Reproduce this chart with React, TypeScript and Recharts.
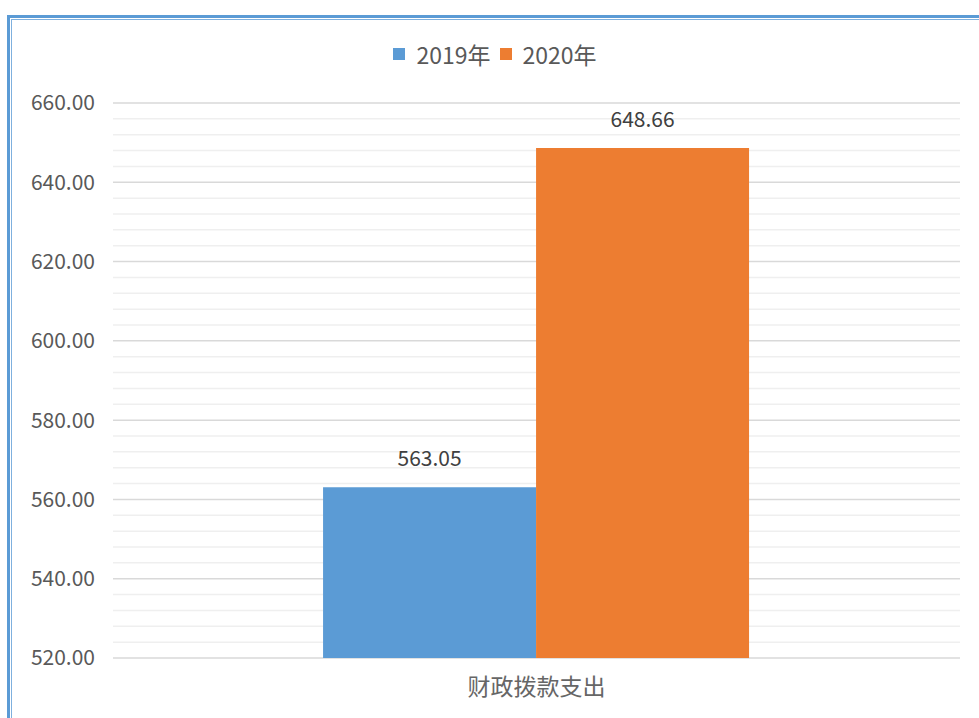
import { BarChart, Bar, XAxis, YAxis, CartesianGrid, Legend, LabelList } from 'recharts';

const categories = ['财政拨款支出'];
const values2019 = [563.05];
const values2020 = [648.66];
const yDomain = [520, 660];
const yTicks = [520, 540, 560, 580, 600, 620, 640, 660];
const minorTicks = [524, 528, 532, 536, 544, 548, 552, 556, 564, 568, 572, 576, 584, 588, 592, 596, 604, 608, 612, 616, 624, 628, 632, 636, 644, 648, 652, 656];

const series = [
  { key: 'y2019', name: '2019年', color: '#5b9bd5' },
  { key: 'y2020', name: '2020年', color: '#ed7d31' },
];

const data = categories.map((name, i) => ({
  name,
  y2019: values2019[i],
  y2020: values2020[i],
}));

const FONT = '"Noto Sans CJK SC", "Noto Sans", sans-serif';
const TEXT = '#595959';

// y positions of the minor grid lines, through the y axis scale
function minorLines(props: any): number[] {
  const sc = props?.yAxis?.scale;
  if (typeof sc === 'function') return minorTicks.map((v) => sc(v));
  if (sc && typeof sc.map === 'function') return minorTicks.map((v) => sc.map(v));
  const { top, height } = props.offset;
  const [lo, hi] = yDomain;
  return minorTicks.map((v) => top + height - ((v - lo) / (hi - lo)) * height);
}

function LegendContent() {
  return (
    <div style={{ display: 'flex', justifyContent: 'center', fontFamily: FONT, fontSize: 23, color: TEXT }}>
      {series.map((s) => (
        <div key={s.key} style={{ display: 'flex', alignItems: 'center', marginRight: 9 }}>
          <span style={{ width: 12, height: 12, background: s.color, marginRight: 11, display: 'inline-block' }} />
          <span>{s.name}</span>
        </div>
      ))}
    </div>
  );
}

export default function App() {
  return (
    <div
      style={{
        position: 'fixed',
        left: 0,
        top: 0,
        width: 979,
        height: 718,
        overflow: 'hidden',
        background: '#fff',
        fontFamily: FONT,
      }}
    >
      <div
        style={{
          position: 'absolute',
          left: 7,
          top: 15,
          width: 1000,
          height: 760,
          border: '3px solid #5b9bd5',
          boxSizing: 'border-box',
        }}
      >
        <div
          style={{
            position: 'absolute',
            left: 1,
            top: 1,
            right: 1,
            bottom: 1,
            border: '1px solid #7fb0de',
          }}
        />
      </div>
      <div style={{ position: 'absolute', left: 0, top: 0 }}>
        <BarChart
          width={979}
          height={718}
          data={data}
          margin={{ top: 103, right: 19, bottom: 0, left: 0 }}
          barCategoryGap="24.8%"
          barGap={0}
        >
          <CartesianGrid
            vertical={false}
            horizontal
            stroke="#efefef"
            strokeWidth={1.5}
            horizontalCoordinatesGenerator={minorLines}
          />
          <CartesianGrid vertical={false} horizontal stroke="#d9d9d9" strokeWidth={1.5} />
          <XAxis
            dataKey="name"
            axisLine={false}
            tickLine={false}
            height={60}
            tick={{ fill: '#666', fontSize: 23, fontFamily: FONT, dy: 13 }}
          />
          <YAxis
            domain={yDomain}
            ticks={yTicks}
            axisLine={false}
            tickLine={false}
            width={113}
            tickFormatter={(v: number) => v.toFixed(2)}
            tick={{ fill: TEXT, fontSize: 21, fontFamily: FONT, dx: -10 }}
          />
          <Legend
            layout="horizontal"
            verticalAlign="middle"
            align="center"
            wrapperStyle={{ top: 37, left: 10, width: 979 }}
            content={() => <LegendContent />}
          />
          {series.map((s) => (
            <Bar key={s.key} dataKey={s.key} name={s.name} fill={s.color} isAnimationActive={false}>
              <LabelList
                dataKey={s.key}
                position="top"
                offset={21}
                formatter={(v: number) => v.toFixed(2)}
                style={{ fill: '#404040', fontSize: 21, fontFamily: FONT }}
              />
            </Bar>
          ))}
        </BarChart>
      </div>
    </div>
  );
}
